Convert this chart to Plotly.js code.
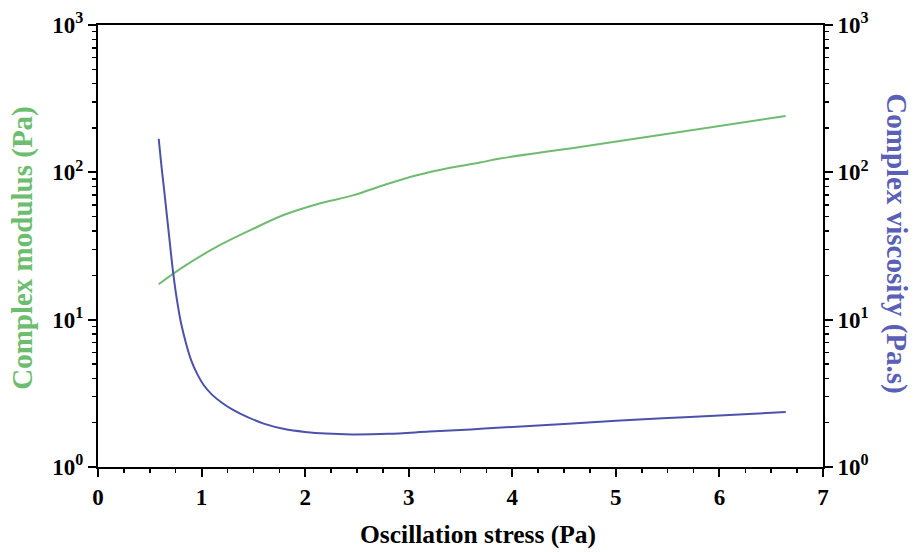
<!DOCTYPE html>
<html>
<head>
<meta charset="utf-8">
<script src="https://cdn.plot.ly/plotly-3.0.1.min.js"></script>
<style>html,body{margin:0;padding:0;background:#fff;}#chart{width:917px;height:552px;}</style>
</head>
<body>
<div id="chart"></div>
<script>
// Complex modulus (Pa) vs oscillation stress (Pa) — left axis
const modulusStress = [0.586, 0.827, 1.149, 1.471, 1.792, 2.114, 2.467, 2.756, 3.078, 3.399, 3.688, 3.881, 4.653, 5.617, 6.639];
const modulusValues = [17.4, 22.9, 31.3, 40.5, 51.3, 60.8, 70.0, 81.8, 95.6, 107.5, 116.5, 124, 148.6, 187.8, 241];

// Complex viscosity (Pa.s) vs oscillation stress (Pa) — right axis
const viscosityStress = [0.586, 0.61, 0.635, 0.66, 0.683, 0.705, 0.725, 0.75, 0.77, 0.80, 0.85, 0.9, 0.96, 1.02, 1.1, 1.2, 1.3, 1.45, 1.6, 1.8, 2.0, 2.2, 2.45, 2.8, 3.2, 3.6, 4.0, 4.5, 5.0, 5.5, 6.0, 6.64];
const viscosityValues = [169, 115, 80, 55, 39, 28, 21, 15.5, 12.6, 9.6, 6.9, 5.3, 4.25, 3.6, 3.1, 2.72, 2.45, 2.17, 1.97, 1.81, 1.73, 1.685, 1.665, 1.68, 1.74, 1.80, 1.87, 1.96, 2.06, 2.15, 2.24, 2.36];

// Tick labels and titles
const logTickVals = [1, 10, 100, 1000];
const logTickText = ['10<sup>0</sup>', '10<sup>1</sup>', '10<sup>2</sup>', '10<sup>3</sup>'];
const logMinorVals = [2,3,4,5,6,7,8,9,20,30,40,50,60,70,80,90,200,300,400,500,600,700,800,900];
const xTickVals = [0, 1, 2, 3, 4, 5, 6, 7];
const xTitle = 'Oscillation stress (Pa)';
const yTitle = 'Complex modulus (Pa)';
const y2Title = 'Complex viscosity (Pa.s)';

const FONT = 'Liberation Serif, Times New Roman, serif';
const GREEN_LINE = '#70bb72';
const BLUE_LINE = '#4c52ab';
const GREEN_TEXT = '#6cbd6e';
const BLUE_TEXT = '#5a60b6';

const tickFont = {family: FONT, size: 23, color: '#000', weight: 700};

const logAxisBase = {
  type: 'log',
  range: [0, 3],
  tickmode: 'array',
  tickvals: logTickVals,
  ticktext: logTickText,
  ticks: 'outside',
  ticklen: 8,
  tickwidth: 2,
  tickcolor: '#000',
  showline: true,
  linecolor: '#000',
  linewidth: 2,
  showgrid: false,
  zeroline: false,
  tickfont: tickFont,
  minor: {tickmode: 'array', tickvals: logMinorVals, ticks: 'outside', ticklen: 4, tickwidth: 1.5, tickcolor: '#000', showgrid: false}
};

const traces = [
  {
    x: modulusStress, y: modulusValues, type: 'scatter', mode: 'lines',
    line: {color: GREEN_LINE, width: 2, shape: 'spline', smoothing: 1},
    yaxis: 'y', name: 'Complex modulus', hoverinfo: 'skip'
  },
  {
    x: viscosityStress, y: viscosityValues, type: 'scatter', mode: 'lines',
    line: {color: BLUE_LINE, width: 2, shape: 'spline', smoothing: 1},
    yaxis: 'y2', name: 'Complex viscosity', hoverinfo: 'skip'
  }
];

const layout = {
  width: 917, height: 552,
  margin: {l: 97.5, r: 93.7, t: 24.5, b: 84.5},
  paper_bgcolor: '#fff', plot_bgcolor: '#fff',
  showlegend: false,
  xaxis: {
    range: [0, 7],
    tickmode: 'array', tickvals: xTickVals,
    ticks: 'outside', ticklen: 8, tickwidth: 2, tickcolor: '#000',
    showline: true, linecolor: '#000', linewidth: 2, mirror: true,
    showgrid: false, zeroline: false,
    tickfont: tickFont,
    minor: {dtick: 0.25, ticks: 'outside', ticklen: 4, tickwidth: 1.5, tickcolor: '#000', showgrid: false}
  },
  yaxis: Object.assign({}, logAxisBase, {side: 'left'}),
  yaxis2: Object.assign({}, logAxisBase, {side: 'right', overlaying: 'y'}),
  annotations: [
    {
      text: xTitle, xref: 'paper', yref: 'paper',
      x: 0.524, y: -0.152, xanchor: 'center', yanchor: 'middle',
      showarrow: false, font: {family: FONT, size: 25.5, color: '#000', weight: 700}
    },
    {
      text: yTitle, xref: 'paper', yref: 'paper',
      x: -0.104, y: 0.495, xanchor: 'center', yanchor: 'middle', textangle: -90,
      showarrow: false, font: {family: FONT, size: 29, color: GREEN_TEXT, weight: 700}
    },
    {
      text: y2Title, xref: 'paper', yref: 'paper',
      x: 1.1015, y: 0.507, xanchor: 'center', yanchor: 'middle', textangle: 90,
      showarrow: false, font: {family: FONT, size: 29, color: BLUE_TEXT, weight: 700}
    }
  ]
};

Plotly.newPlot('chart', traces, layout, {displayModeBar: false, staticPlot: true});
</script>
</body>
</html>
